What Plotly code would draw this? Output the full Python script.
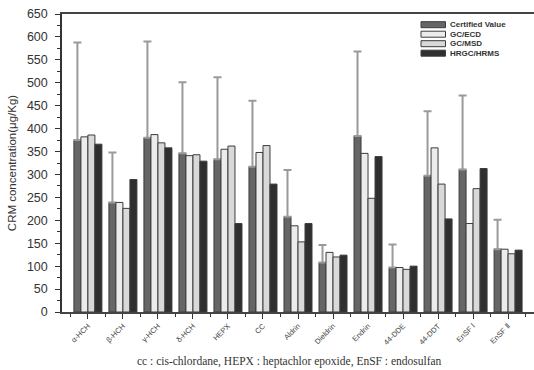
import plotly.graph_objects as go

categories = ["α-HCH", "β-HCH", "γ-HCH", "δ-HCH", "HEPX", "CC", "Aldrin", "Dieldrin",
              "Endrin", "44-DDE", "44-DDT", "EnSF Ⅰ", "EnSF Ⅱ"]
series_names = ["Certified Value", "GC/ECD", "GC/MSD", "HRGC/HRMS"]

certified = [375, 239, 380, 346, 333, 317, 208, 108, 384, 97, 297, 311, 137]
certified_upper = [588, 348, 590, 501, 512, 461, 310, 146, 568, 147, 438, 472, 201]
gc_ecd = [382, 239, 387, 341, 355, 348, 188, 130, 346, 97, 358, 193, 137]
gc_msd = [386, 226, 369, 343, 362, 363, 153, 120, 248, 93, 279, 269, 127]
hrgc_hrms = [366, 289, 358, 329, 193, 279, 193, 124, 339, 100, 203, 313, 135]

y_ticks = list(range(0, 651, 50))

colors = ["#666666", "#ececec", "#d9d9d9", "#2f2f2f"]
outline = "#3c3c3c"

err_plus = [u - v for u, v in zip(certified_upper, certified)]
values = [certified, gc_ecd, gc_msd, hrgc_hrms]

fig = go.Figure()
for i, (name, vals) in enumerate(zip(series_names, values)):
    kw = {}
    if i == 0:
        kw["error_y"] = dict(type="data", symmetric=False, array=err_plus,
                             arrayminus=[0] * len(err_plus),
                             color="#9a9a9a", thickness=2, width=4)
    fig.add_trace(go.Bar(
        x=list(range(len(categories))), y=vals, name=name,
        marker=dict(color=colors[i], line=dict(color=outline, width=1)),
        showlegend=False, **kw))

# Custom compact legend
L, R, T, B = 62, 534, 14, 312
W, H = R - L, B - T
def px(x):
    return (x - L) / W
def py(y):
    return (B - y) / H
row_tops = [21.7, 31.2, 40.7, 50.2]
for i, name in enumerate(series_names):
    y0 = row_tops[i]
    fig.add_shape(type="rect", xref="paper", yref="paper",
                  x0=px(421), x1=px(445.5), y0=py(y0), y1=py(y0 + 6),
                  fillcolor=colors[i], line=dict(color=outline, width=1))
    fig.add_annotation(xref="paper", yref="paper", x=px(448), y=py(y0 + 3),
                       text="<b>" + name + "</b>", showarrow=False,
                       xanchor="left", yanchor="middle",
                       font=dict(family="Liberation Sans, Arial", size=8, color="#333333"))

fig.add_annotation(xref="paper", yref="paper", x=px(289), y=py(361),
                   text="cc : cis-chlordane, HEPX : heptachlor epoxide, EnSF : endosulfan",
                   showarrow=False, xanchor="center", yanchor="middle",
                   font=dict(family="Liberation Serif, Times New Roman", size=11.5, color="#333333"))

fig.update_layout(
    width=534, height=370,
    margin=dict(l=L, r=534 - R, t=T, b=370 - B),
    paper_bgcolor="white", plot_bgcolor="white",
    barmode="group", bargap=0.2, bargroupgap=0,
    font=dict(family="Liberation Sans, Arial", color="#333333"),
    xaxis=dict(
        range=[-0.74, 12.74], tickmode="array",
        tickvals=list(range(len(categories))), ticktext=categories,
        tickangle=-45, tickfont=dict(size=7.5, color="#444444"),
        ticks="outside", ticklen=5, tickcolor="#333333",
        showline=True, linecolor="#444444", linewidth=1.5, mirror=True,
        showgrid=False, zeroline=False,
        minor=dict(tickvals=[k + 0.5 for k in range(-1, len(categories))],
                   ticks="outside", ticklen=3, tickcolor="#333333"),
    ),
    yaxis=dict(
        range=[0, 650], tickmode="array", tickvals=y_ticks,
        tickfont=dict(size=12.5, color="#333333"),
        ticks="outside", ticklen=5, tickcolor="#333333",
        ticklabelstandoff=5,
        showline=True, linecolor="#333333", linewidth=1.5,
        showgrid=False, zeroline=False,
        minor=dict(dtick=25, ticks="outside", ticklen=3, tickcolor="#333333"),
        title=dict(text="CRM concentration(μg/Kg)", font=dict(size=11.5, color="#333333"),
                   standoff=8),
    ),
)

fig.write_html("out.html",
               config={"displayModeBar": False},
               post_script="document.body.style.margin='0';document.body.style.overflow='hidden';")
